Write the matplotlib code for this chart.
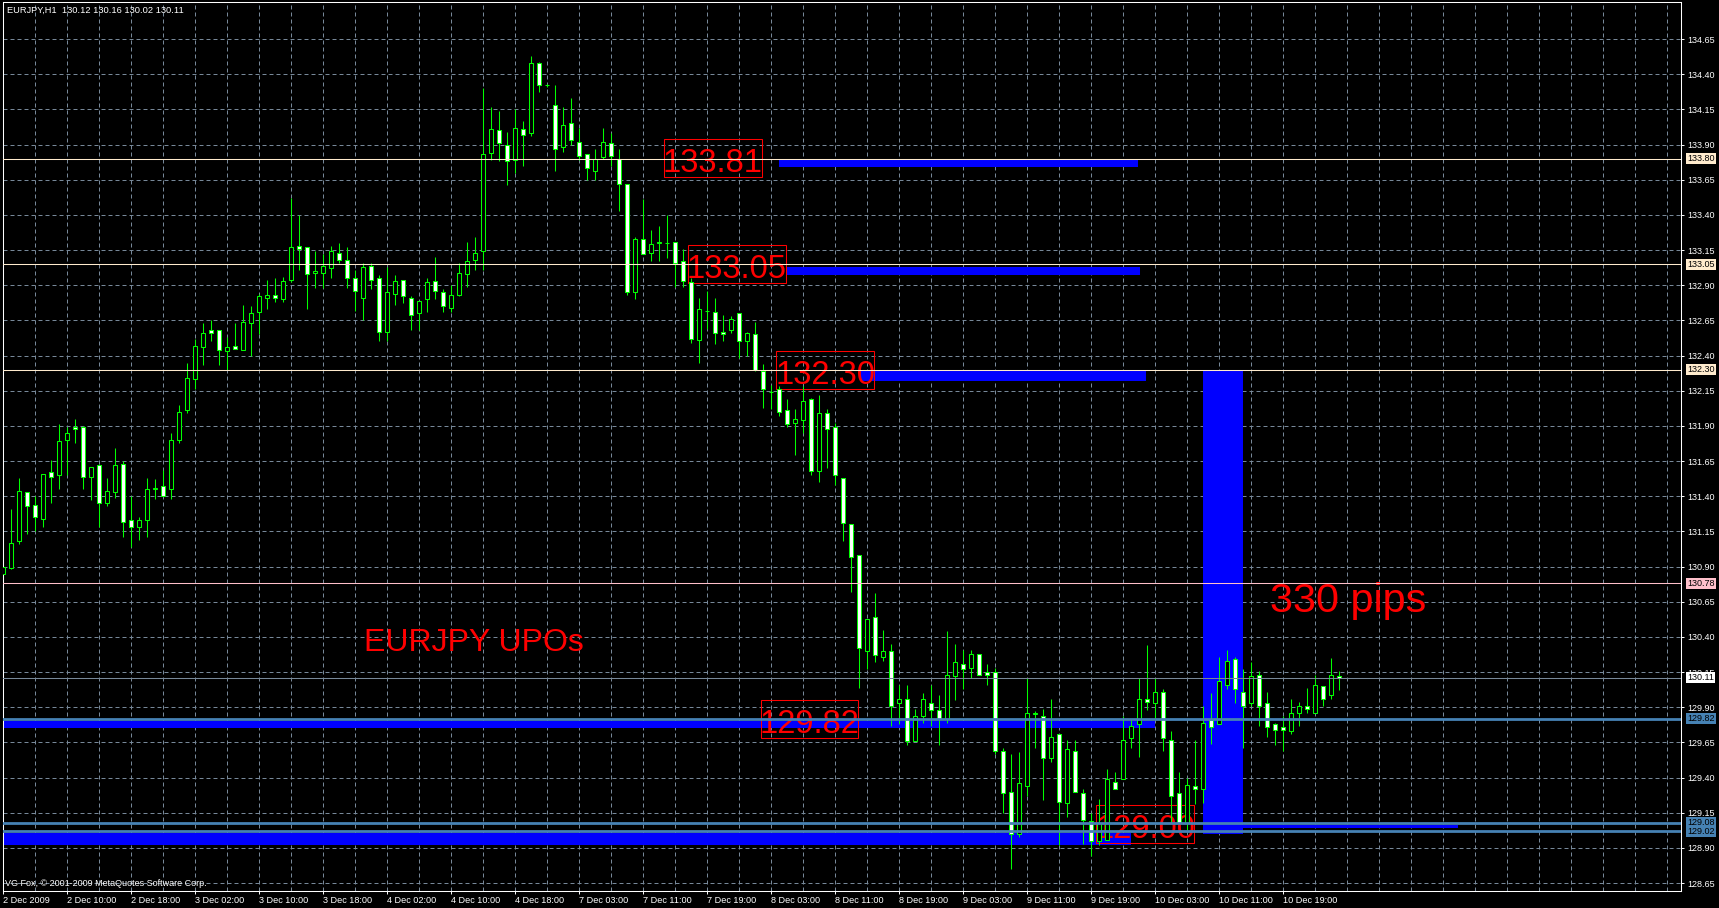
'''
EURJPY H1 chart (MT4 style), 2 - 10 Dec 2009
candles + UPO levels marked with blue zones and red price boxes
'''

import numpy as np
import matplotlib.pyplot as plt
from matplotlib.patches import Rectangle
from matplotlib.ticker import MultipleLocator

plt.rcParams['font.family'] = ['Liberation Sans', 'DejaVu Sans']

# hourly candles (bar 0 = 2 Dec 2009 02:00)
opens = [130.85, 130.89, 131.08, 131.43, 131.34, 131.24, 131.57, 131.55, 131.80, 131.89,
         131.89, 131.54, 131.62, 131.35, 131.43, 131.63, 131.23, 131.18, 131.23, 131.45,
         131.47, 131.45, 131.80, 132.01, 132.23, 132.46, 132.58, 132.58, 132.43, 132.47,
         132.44, 132.63, 132.71, 132.81, 132.83, 132.80, 132.94, 133.18, 133.17, 132.99,
         132.99, 133.02, 133.13, 133.08, 132.95, 132.81, 133.04, 132.95, 132.57, 132.84,
         132.94, 132.81, 132.70, 132.80, 132.93, 132.85, 132.74, 132.83, 132.98, 133.08,
         133.14, 133.84, 134.00, 133.90, 133.79, 134.01, 133.98, 134.48, 134.32, 134.18,
         133.88, 134.05, 133.92, 133.83, 133.71, 133.81, 133.91, 133.80, 133.62, 132.85,
         133.23, 133.13, 133.20, 133.20, 133.21, 133.07, 132.92, 132.51, 132.72, 132.71,
         132.57, 132.58, 132.70, 132.50, 132.55, 132.29, 132.14, 132.16, 132.01, 131.92,
         131.94, 132.09, 131.58, 131.99, 131.89, 131.53, 131.20, 130.98, 130.30, 130.54,
         130.26, 130.30, 129.93, 129.96, 129.66, 129.84, 129.93, 129.88, 129.82, 130.12,
         130.21, 130.18, 130.28, 130.15, 130.15, 129.59, 129.30, 129.00, 129.34, 129.85,
         129.84, 129.54, 129.71, 129.22, 129.59, 129.29, 129.09, 128.95, 128.96, 129.37,
         129.39, 129.68, 129.78, 129.96, 129.93, 130.01, 129.67, 129.29, 129.08, 129.34,
         129.32, 129.81, 129.78, 130.06, 130.24, 130.01, 129.93, 130.13, 129.93, 129.78,
         129.76, 129.73, 129.86, 129.91, 129.86, 130.05, 129.99, 130.12]
highs = [130.99, 131.31, 131.53, 131.43, 131.40, 131.56, 131.66, 131.91, 131.89, 131.95,
         131.90, 131.61, 131.63, 131.53, 131.74, 131.65, 131.40, 131.25, 131.53, 131.52,
         131.59, 131.85, 132.05, 132.35, 132.52, 132.63, 132.65, 132.58, 132.53, 132.63,
         132.76, 132.75, 132.84, 132.94, 132.95, 132.96, 133.52, 133.40, 133.17, 133.14,
         133.12, 133.18, 133.20, 133.17, 133.01, 133.06, 133.06, 132.97, 133.03, 132.97,
         132.94, 132.82, 132.79, 132.95, 133.10, 132.87, 132.90, 133.06, 133.21, 133.24,
         134.30, 134.17, 134.14, 133.99, 134.15, 134.07, 134.53, 134.49, 134.33, 134.32,
         134.17, 134.23, 134.02, 133.83, 133.87, 134.02, 133.98, 133.87, 133.62, 133.24,
         133.51, 133.29, 133.32, 133.40, 133.21, 133.16, 132.95, 132.81, 132.86, 132.81,
         132.69, 132.68, 132.70, 132.57, 132.64, 132.34, 132.19, 132.18, 132.09, 132.02,
         132.18, 132.10, 132.12, 132.02, 131.92, 131.53, 131.20, 130.98, 130.53, 130.71,
         130.45, 130.35, 130.06, 130.06, 129.89, 130.00, 130.06, 129.99, 130.44, 130.35,
         130.31, 130.31, 130.28, 130.21, 130.18, 129.61, 129.57, 129.58, 130.11, 129.87,
         129.89, 129.96, 129.71, 129.67, 129.67, 129.32, 129.15, 129.25, 129.46, 129.44,
         129.84, 129.81, 130.11, 130.34, 130.11, 130.03, 129.73, 129.44, 129.40, 129.67,
         129.91, 130.00, 130.26, 130.31, 130.26, 130.17, 130.22, 130.16, 130.01, 129.79,
         129.84, 129.96, 129.94, 130.04, 130.13, 130.05, 130.25, 130.16]
lows = [130.78, 130.88, 131.06, 131.13, 131.15, 131.18, 131.35, 131.45, 131.55, 131.78,
        131.45, 131.37, 131.18, 131.33, 131.39, 131.11, 131.04, 131.09, 131.11, 131.38,
        131.40, 131.38, 131.78, 131.99, 132.16, 132.33, 132.50, 132.33, 132.30, 132.45,
        132.44, 132.40, 132.55, 132.73, 132.78, 132.78, 132.92, 133.01, 132.73, 132.88,
        132.88, 132.95, 133.06, 132.88, 132.72, 132.65, 132.87, 132.50, 132.50, 132.76,
        132.77, 132.58, 132.58, 132.71, 132.80, 132.71, 132.71, 132.82, 132.89, 133.01,
        133.01, 133.79, 133.78, 133.61, 133.70, 133.75, 133.96, 134.27, 134.31, 133.71,
        133.85, 133.90, 133.79, 133.65, 133.65, 133.80, 133.75, 133.43, 132.83, 132.80,
        133.12, 133.07, 133.07, 133.09, 132.89, 132.89, 132.49, 132.35, 132.59, 132.48,
        132.50, 132.56, 132.38, 132.40, 132.29, 132.03, 132.02, 131.97, 131.89, 131.69,
        131.85, 131.55, 131.50, 131.60, 131.48, 131.08, 130.72, 130.04, 130.17, 130.22,
        130.23, 129.77, 129.78, 129.63, 129.66, 129.79, 129.77, 129.63, 129.79, 129.95,
        130.03, 130.11, 130.13, 130.06, 129.57, 129.15, 128.75, 128.98, 129.27, 129.61,
        129.24, 129.51, 128.92, 129.12, 129.30, 128.93, 128.84, 128.92, 128.96, 129.32,
        129.39, 129.61, 129.55, 129.88, 129.82, 129.59, 129.08, 129.08, 129.03, 129.21,
        129.22, 129.64, 129.78, 130.03, 129.93, 129.61, 129.91, 129.77, 129.69, 129.63,
        129.59, 129.71, 129.77, 129.86, 129.86, 129.91, 129.96, 130.02]
closes = [130.90, 131.07, 131.44, 131.33, 131.25, 131.56, 131.54, 131.79, 131.85, 131.88,
          131.54, 131.61, 131.35, 131.44, 131.62, 131.22, 131.18, 131.23, 131.45, 131.46,
          131.40, 131.80, 132.00, 132.24, 132.47, 132.56, 132.56, 132.44, 132.46, 132.45,
          132.64, 132.70, 132.82, 132.83, 132.81, 132.93, 133.17, 133.16, 132.98, 133.00,
          133.04, 133.14, 133.08, 132.95, 132.86, 133.03, 132.94, 132.57, 132.85, 132.93,
          132.82, 132.69, 132.79, 132.92, 132.86, 132.75, 132.83, 132.99, 133.07, 133.13,
          133.83, 134.01, 133.91, 133.78, 134.02, 133.97, 134.48, 134.32, 134.32, 133.87,
          134.04, 133.93, 133.82, 133.73, 133.80, 133.92, 133.82, 133.62, 132.85, 133.23,
          133.12, 133.19, 133.21, 133.20, 133.06, 132.93, 132.52, 132.73, 132.72, 132.56,
          132.55, 132.66, 132.50, 132.56, 132.30, 132.16, 132.14, 132.00, 131.91, 131.95,
          132.08, 131.58, 131.99, 131.88, 131.55, 131.21, 130.97, 130.32, 130.53, 130.27,
          130.30, 129.91, 129.96, 129.66, 129.84, 129.96, 129.88, 129.82, 130.13, 130.22,
          130.17, 130.28, 130.13, 130.13, 129.59, 129.29, 129.00, 129.36, 129.86, 129.86,
          129.54, 129.69, 129.23, 129.60, 129.30, 129.10, 128.95, 129.08, 129.39, 129.32,
          129.67, 129.77, 129.96, 129.94, 130.01, 129.68, 129.27, 129.08, 129.35, 129.32,
          129.79, 129.76, 130.09, 130.23, 130.03, 129.91, 130.12, 129.91, 129.76, 129.74,
          129.74, 129.86, 129.91, 129.89, 130.06, 129.96, 130.13, 130.11]

# time axis labels, one every 8 bars
time_labels = ['2 Dec 2009', '2 Dec 10:00', '2 Dec 18:00', '3 Dec 02:00', '3 Dec 10:00',
               '3 Dec 18:00', '4 Dec 02:00', '4 Dec 10:00', '4 Dec 18:00', '7 Dec 03:00',
               '7 Dec 11:00', '7 Dec 19:00', '8 Dec 03:00', '8 Dec 11:00', '8 Dec 19:00',
               '9 Dec 03:00', '9 Dec 11:00', '9 Dec 19:00', '10 Dec 03:00', '10 Dec 11:00',
               '10 Dec 19:00']

price_ticks = [128.65, 128.90, 129.15, 129.40, 129.65, 129.90, 130.15, 130.40, 130.65,
               130.90, 131.15, 131.40, 131.65, 131.90, 132.15, 132.40, 132.65, 132.90,
               133.15, 133.40, 133.65, 133.90, 134.15, 134.40, 134.65]

# horizontal level lines with their price tags on the right axis
level_prices = [133.80, 133.05, 132.30, 130.78, 130.11, 129.82, 129.08, 129.02]
level_kind = ['level', 'level', 'level', 'pink', 'bid', 'upo', 'upo', 'upo']

# blue zones (bar index from/to, price low/high)
zone_start = [97.0, 98.0, 107.1, 150.0, -2.0, -2.0, 155.0]
zone_end = [141.8, 142.1, 142.8, 155.0, 144.0, 141.0, 181.8]
zone_low = [133.74, 132.97, 132.22, 129.00, 129.755, 128.92, 129.04]
zone_high = [133.80, 133.03, 132.29, 132.30, 129.80, 129.005, 129.065]

# red price boxes
box_text = ['133.81', '133.05', '132.30', '129.82', '129.00']
box_start = [82.6, 85.6, 96.6, 94.7, 136.6]
box_end = [94.8, 97.8, 108.8, 106.8, 148.8]
box_low = [133.669, 132.916, 132.162, 129.682, 128.936]
box_high = [133.939, 133.186, 132.432, 129.952, 129.206]

# big annotations
notes = ['EURJPY UPOs', '330 pips']
note_x = [45.1, 158.3]
note_y = [130.30, 130.575]

kind_style = {
    'level': ('#FFEBCD', 0.75, '#FFEBCD'),
    'pink': ('#FFC0CB', 0.75, '#FFC0CB'),
    'bid': ('#778899', 0.75, 'white'),
    'upo': ('#4682B4', 2.0, '#4682B4'),
}

W, H = 1719, 908
fig = plt.figure(figsize=(W / 100, H / 100), dpi=100, facecolor='black')
ax = fig.add_axes([3 / W, 17 / H, 1678 / W, 889 / H])
ax.set_facecolor('black')
ax.set_axisbelow(True)

# zones go in the background
for x0, x1, lo, hi in zip(zone_start, zone_end, zone_low, zone_high):
    ax.add_patch(Rectangle((x0, lo), x1 - x0, hi - lo, facecolor='#0000FF',
                           edgecolor='none', zorder=1))

# red boxes with price text
for txt, x0, x1, lo, hi in zip(box_text, box_start, box_end, box_low, box_high):
    ax.add_patch(Rectangle((x0, lo), x1 - x0, hi - lo, facecolor='none',
                           edgecolor='#FF0000', linewidth=0.75, zorder=1.5))
    ax.text((x0 + x1) / 2, lo + 0.036, txt, color='#FF0000', fontsize=23.5,
            ha='center', va='baseline', zorder=1.5)
ax.plot([box_end[0], box_end[0] + 1.3], [133.80, 133.80], color='#FF0000', lw=0.75, zorder=1.5)

ax.text(note_x[0], note_y[0], notes[0], color='#FF0000', fontsize=23, va='baseline', zorder=1.5)
ax.text(note_x[1], note_y[1], notes[1], color='#FF0000', fontsize=29.8, va='baseline', zorder=1.5)

# candles: black body = up bar, white body = down bar
o = np.array(opens)
c = np.array(closes)
idx = np.arange(len(o))
up = c >= o
ax.vlines(idx, lows, highs, color='#00FF00', lw=0.75, zorder=2)
ax.bar(idx, np.abs(c - o), width=0.5, bottom=np.minimum(o, c),
       color=np.where(up, 'black', 'white'), edgecolor='#00FF00', linewidth=0.75, zorder=3)

# level lines + tags
for p, k in zip(level_prices, level_kind):
    lc, lw, bg = kind_style[k]
    ax.axhline(p, color=lc, lw=lw, zorder=4)
    ax.annotate('%.2f' % p, xy=(1, p), xycoords=('axes fraction', 'data'),
                xytext=(4.3, 0), textcoords='offset points', ha='left', va='center',
                fontsize=6.5, color='black', annotation_clip=False, zorder=6,
                bbox=dict(boxstyle='square,pad=0.12', fc=bg, ec='none'))

ax.set_xlim(-0.04, 209.7)
ax.set_ylim(128.594, 134.913)

# axes, ticks, grid
ax.set_xticks(np.arange(len(time_labels)) * 8)
ax.set_xticklabels(time_labels)
for lbl in ax.get_xticklabels():
    lbl.set_horizontalalignment('left')
ax.xaxis.set_minor_locator(MultipleLocator(4))
ax.set_yticks(price_ticks)
ax.set_yticklabels(['%.2f' % v for v in price_ticks])
ax.yaxis.tick_right()

ax.tick_params(axis='x', which='major', colors='white', length=1.8, width=0.7,
               pad=1.5, labelsize=6.6)
ax.tick_params(axis='x', which='minor', length=0)
ax.tick_params(axis='y', colors='white', length=2.2, width=0.7, pad=2.2, labelsize=6.5)

grid_kw = dict(color='#778899', linestyle=(0, (4, 3)), linewidth=0.72)
ax.grid(which='both', axis='x', **grid_kw)
ax.grid(which='major', axis='y', **grid_kw)

for s in ax.spines.values():
    s.set_color('white')
    s.set_linewidth(0.75)

fig.text(6.5 / W, 1 - 10.5 / H, 'EURJPY,H1  130.12 130.16 130.02 130.11', color='white',
         fontsize=6.7, va='center', ha='left')
ax.text(2 / 1678, 8 / 889, 'VG Fox, © 2001-2009 MetaQuotes Software Corp.', color='white',
        fontsize=6.5, va='center', ha='left', transform=ax.transAxes, zorder=5)

fig.savefig('out.png', dpi=100, facecolor='black')
